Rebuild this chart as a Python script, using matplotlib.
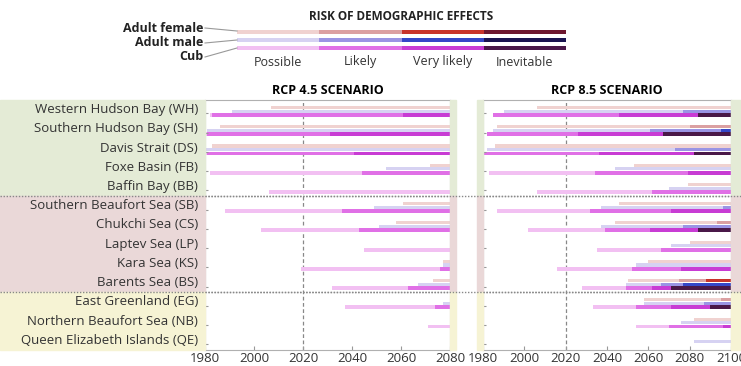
import numpy as np
import matplotlib.pyplot as plt
from matplotlib.lines import Line2D
from matplotlib.patches import Rectangle

plt.rcParams['font.family'] = ['Open Sans', 'DejaVu Sans']

regions = ['Western Hudson Bay (WH)', 'Southern Hudson Bay (SH)', 'Davis Strait (DS)',
           'Foxe Basin (FB)', 'Baffin Bay (BB)', 'Southern Beaufort Sea (SB)',
           'Chukchi Sea (CS)', 'Laptev Sea (LP)', 'Kara Sea (KS)', 'Barents Sea (BS)',
           'East Greenland (EG)', 'Northern Beaufort Sea (NB)',
           'Queen Elizabeth Islands (QE)']
levels = ['Possible', 'Likely', 'Very likely', 'Inevitable']
sexes = ['Adult female', 'Adult male', 'Cub']
N = None

# onset year of each risk level: possible, likely, very likely, inevitable
rcp45_female = [[2007, N, N, N], [1986, N, N, N], [1983, N, N, N], [2072, N, N, N],
                [N, N, N, N], [2061, N, N, N], [2058, N, N, N], [N, N, N, N],
                [2077, N, N, N], [2073, N, N, N], [N, N, N, N], [N, N, N, N],
                [N, N, N, N]]
rcp45_male = [[1991, N, N, N], [1981, N, N, N], [1980, N, N, N], [2054, N, N, N],
              [N, N, N, N], [2049, N, N, N], [2051, N, N, N], [N, N, N, N],
              [2077, N, N, N], [2067, N, N, N], [2077, N, N, N], [N, N, N, N],
              [N, N, N, N]]
rcp45_cub = [[1982, 1983, 2061, N], [1980, 1981, 2031, N], [1980, 1981, 2041, N],
             [1982, 2044, N, N], [2006, N, N, N], [1988, 2036, N, N],
             [2003, 2043, N, N], [2045, N, N, N], [2019, 2076, N, N],
             [2032, 2063, N, N], [2037, 2074, N, N], [2071, N, N, N],
             [N, N, N, N]]

rcp85_female = [[2006, N, N, N], [1987, 2080, N, N], [1986, N, N, N], [2053, N, N, N],
                [2079, N, N, N], [2046, N, N, N], [2044, 2093, N, N], [2080, N, N, N],
                [2060, N, N, N], [2050, 2075, 2088, N], [2058, 2095, N, N],
                [2082, N, N, N], [N, N, N, N]]
rcp85_male = [[1990, 2077, N, N], [1985, 2061, 2095, N], [1982, 2073, N, N],
              [2044, N, N, N], [2070, N, N, N], [2037, 2096, N, N], [2037, 2077, N, N],
              [2071, N, N, N], [2054, N, N, N], [2049, 2066, 2077, N],
              [2058, 2087, N, N], [2076, N, N, N], [2082, N, N, N]]
rcp85_cub = [[1985, 1985, 2046, 2084], [1982, 1982, 2026, 2067], [1980, 1980, 2036, 2082],
             [1983, 2034, 2079, N], [2006, 2062, N, N], [1987, 2032, 2071, N],
             [2002, 2039, 2061, 2084], [2035, 2066, N, N], [2016, 2052, 2076, N],
             [2028, 2049, 2062, 2071], [2033, 2054, 2071, 2090], [2054, 2070, 2096, N],
             [N, N, N, N]]

colors = [['#f0d2d0', '#dba0a2', '#c8342c', '#6e1830'],
          ['#d6d2f2', '#9a94e4', '#3446c8', '#1a1450'],
          ['#f2c0f2', '#e070e6', '#c83cd4', '#4a1848']]
offsets = [-0.11, 0.08, 0.28]
heights = [0.16, 0.16, 0.2]

W, H = 741, 366
TOP, BOT = 100, 350
fig = plt.figure(figsize=(W / 100, H / 100), dpi=100)


def fx(px):
    return px / W


def fy(py):
    return 1 - py / H


row_h = (BOT - TOP) / 13
sep1 = TOP + 5 * row_h
sep2 = TOP + 10 * row_h

# background bands
bands = [(TOP, sep1, '#e4ebd6'), (sep1, sep2, '#ead8d8'), (sep2, BOT, '#f6f3d4')]
for y0, y1, c in bands:
    for x0, x1 in [(0, 205), (450, 456), (477, 483), (731, 741)]:
        fig.patches.append(Rectangle((fx(x0), fy(y1)), fx(x1 - x0), (y1 - y0) / H,
                                     transform=fig.transFigure, color=c, zorder=0))
for yy in [sep1, sep2]:
    fig.lines.append(Line2D([0, 1], [fy(yy), fy(yy)], transform=fig.transFigure,
                            color='#888888', lw=1, ls=(0, (1, 1.2)), zorder=5))

for i, name in enumerate(regions):
    fig.text(fx(198), fy(TOP + (i + 0.5) * row_h), name, ha='right', va='center',
             fontsize=9.5, color='#333333')


def draw_panel(ax, data, end, title):
    for s in range(3):
        for i, onsets in enumerate(data[s]):
            for k in range(4):
                if onsets[k] is None:
                    continue
                stop = end
                for j in range(k + 1, 4):
                    if onsets[j] is not None:
                        stop = onsets[j]
                        break
                ax.barh(i + offsets[s], stop - onsets[k], left=onsets[k],
                        height=heights[s], color=colors[s][k], lw=0)
    ax.set_xlim(1980, end)
    ax.set_ylim(12.5, -0.5)
    ax.axvline(2020, color='#888888', lw=0.9, ls=(0, (3, 2)), zorder=0)
    for yy in [4.5, 9.5]:
        ax.axhline(yy, color='#888888', lw=1, ls=(0, (1, 1.2)))
    ax.set_xticks(np.arange(1980, end + 1, 20))
    ax.set_yticks(np.arange(13) + 0.2)
    ax.set_yticklabels([])
    ax.tick_params(axis='x', direction='in', length=3, labelsize=9.5,
                   labelcolor='#333333', color='#999999', pad=1.5)
    ax.tick_params(axis='y', direction='in', length=2, color='#999999')
    for sp in ax.spines.values():
        sp.set_color('#b0b0b0')
        sp.set_linewidth(0.8)
    ax.set_title(title, fontsize=9, fontweight='bold', pad=4)


ax1 = fig.add_axes([fx(205), fy(BOT), fx(450 - 205), (BOT - TOP) / H])
ax2 = fig.add_axes([fx(483), fy(BOT), fx(731 - 483), (BOT - TOP) / H])
draw_panel(ax1, [rcp45_female, rcp45_male, rcp45_cub], 2080, 'RCP 4.5 SCENARIO')
draw_panel(ax2, [rcp85_female, rcp85_male, rcp85_cub], 2100, 'RCP 8.5 SCENARIO')

# legend
lax = fig.add_axes([fx(237), fy(52), fx(566 - 237), 24 / H])
for s in range(3):
    for k in range(4):
        lax.barh(s, 1, left=k, height=0.45, color=colors[s][k], lw=0)
lax.set_xlim(0, 4)
lax.set_ylim(2.45, -0.45)
lax.axis('off')
fig.text(fx(401), fy(16), 'RISK OF DEMOGRAPHIC EFFECTS', ha='center', va='center',
         fontsize=8.5, fontweight='bold', color='#222222')
for k, lab in enumerate(levels):
    fig.text(fx(237 + (k + 0.5) * 82.25), fy(62), lab, ha='center', va='center',
             fontsize=9, color='#333333')
lab_y = [28, 43, 57]
bar_y = [31, 40, 48]
for s, lab in enumerate(sexes):
    fig.text(fx(203), fy(lab_y[s]), lab, ha='right', va='center', fontsize=9,
             fontweight='bold', color='#222222')
    fig.lines.append(Line2D([fx(205), fx(237)], [fy(lab_y[s]), fy(bar_y[s])],
                            transform=fig.transFigure, color='#999999', lw=0.8))

fig.savefig('out.png', dpi=100)
